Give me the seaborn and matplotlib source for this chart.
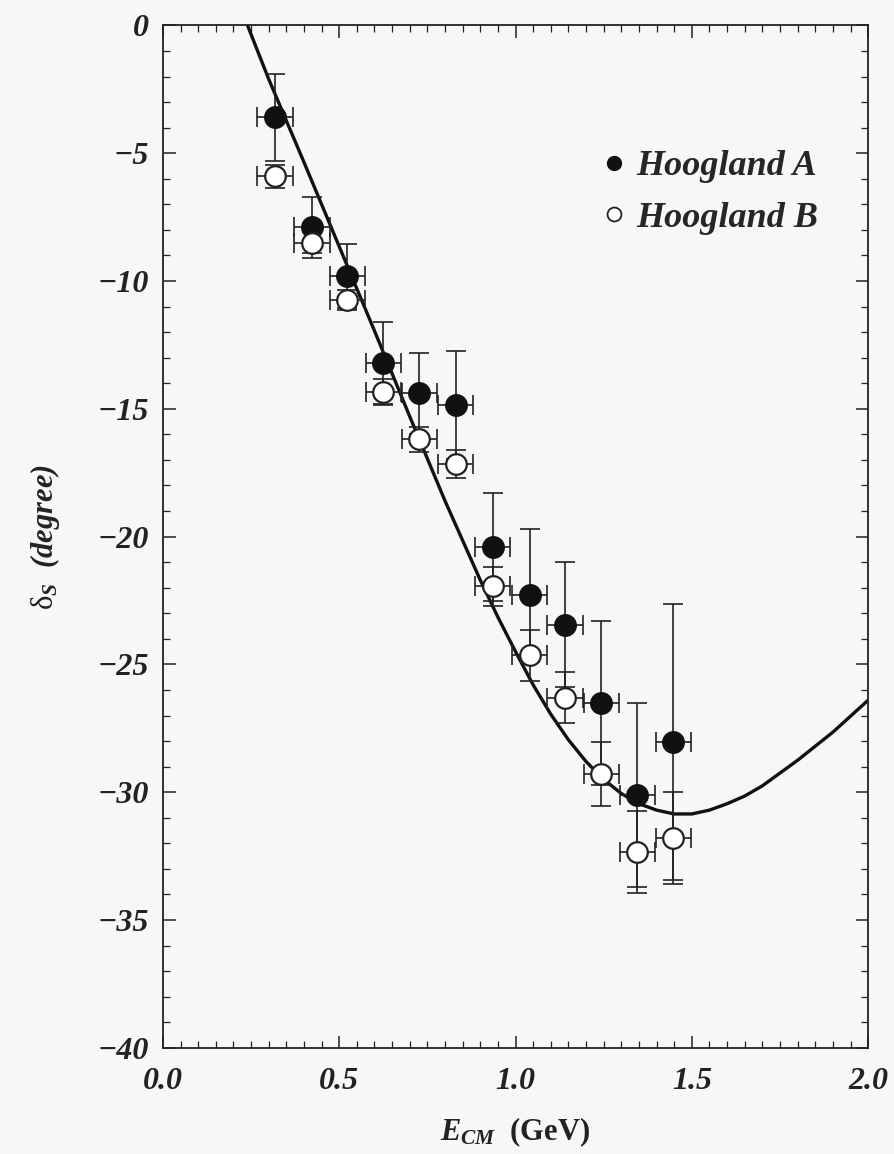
import numpy as np
import pandas as pd
import matplotlib
matplotlib.use("Agg")
import matplotlib.pyplot as plt
from matplotlib.lines import Line2D
from matplotlib.ticker import MultipleLocator
import seaborn as sns

# ---- data ----
e_cm = [0.318, 0.423, 0.523, 0.625, 0.727, 0.830, 0.935, 1.040, 1.140, 1.243, 1.345, 1.447]
e_err = [0.05] * 12

hoog_a = [-3.6, -7.9, -9.8, -13.2, -14.4, -14.85, -20.4, -22.3, -23.45, -26.5, -30.1, -28.05]
hoog_a_err = [1.7, 1.2, 1.25, 1.6, 1.6, 2.1, 2.1, 2.6, 2.45, 3.2, 3.6, 5.4]

hoog_b = [-5.9, -8.5, -10.75, -14.35, -16.2, -17.15, -21.95, -24.65, -26.3, -29.3, -32.35, -31.8]
hoog_b_err = [0.45, 0.4, 0.4, 0.5, 0.5, 0.55, 0.75, 1.0, 1.0, 1.25, 1.6, 1.8]

curve_x = [0.24, 0.30, 0.40, 0.50, 0.60, 0.70, 0.80, 0.90, 0.95, 1.00, 1.05, 1.10, 1.15, 1.20,
           1.25, 1.30, 1.35, 1.40, 1.45, 1.50, 1.55, 1.60, 1.65, 1.70, 1.80, 1.90, 2.00]
curve_y = [0.0, -2.1, -5.35, -8.65, -11.95, -15.3, -18.6, -21.7, -23.15, -24.5, -25.8, -26.95, -27.95, -28.8,
           -29.5, -30.05, -30.45, -30.7, -30.85, -30.85, -30.7, -30.45, -30.15, -29.75, -28.75, -27.65, -26.4]

xticks = [0.0, 0.5, 1.0, 1.5, 2.0]
xtick_labels = ["0.0", "0.5", "1.0", "1.5", "2.0"]
yticks = [0, -5, -10, -15, -20, -25, -30, -35, -40]
ytick_labels = ["0", "\u22125", "\u221210", "\u221215", "\u221220", "\u221225", "\u221230", "\u221235", "\u221240"]

df = pd.DataFrame({"E": e_cm, "A": hoog_a, "B": hoog_b})
dcurve = pd.DataFrame({"x": curve_x, "y": curve_y})

# ---- styling ----
sns.set_theme(style="ticks")
plt.rcParams['font.family'] = ['Liberation Serif', 'DejaVu Serif']
plt.rcParams['mathtext.fontset'] = 'custom'
plt.rcParams['mathtext.rm'] = 'Liberation Serif'
plt.rcParams['mathtext.it'] = 'Liberation Serif:italic:bold'
plt.rcParams['mathtext.bf'] = 'Liberation Serif:bold'

bg = '#f7f7f5'
fig = plt.figure(figsize=(8.95, 11.54), dpi=100, facecolor=bg)
ax = fig.add_axes([0.182, 0.092, 0.788, 0.886])
ax.set_facecolor(bg)

# theory curve
sns.lineplot(data=dcurve, x="x", y="y", ax=ax, color='#111111', linewidth=2.4,
             sort=False, estimator=None, zorder=2)

# error bars
ax.errorbar(e_cm, hoog_a, yerr=hoog_a_err, xerr=e_err, fmt='none', ecolor='#222222',
            elinewidth=1.2, capsize=7, capthick=1.2, zorder=3)
ax.errorbar(e_cm, hoog_b, yerr=hoog_b_err, xerr=e_err, fmt='none', ecolor='#222222',
            elinewidth=1.2, capsize=7, capthick=1.2, zorder=3)

# markers
sns.scatterplot(data=df, x="E", y="A", ax=ax, color='#111111', edgecolor='#111111',
                s=240, linewidth=1.0, zorder=5, legend=False)
sns.scatterplot(data=df, x="E", y="B", ax=ax, color='white', edgecolor='#222222',
                s=220, linewidth=1.6, zorder=5, legend=False)

ax.set_xlim(0.0, 2.0)
ax.set_ylim(-40, 0)
ax.set_xticks(xticks)
ax.set_xticklabels(xtick_labels)
ax.set_yticks(yticks)
ax.set_yticklabels(ytick_labels)
ax.xaxis.set_minor_locator(MultipleLocator(0.05))
ax.yaxis.set_minor_locator(MultipleLocator(1))
ax.tick_params(which='both', direction='in', top=True, right=True, colors='#222222')
ax.tick_params(which='major', length=9, width=1.1)
ax.tick_params(axis='x', which='major', pad=14)
ax.tick_params(axis='y', which='major', pad=10)
ax.tick_params(which='minor', length=5, width=0.9)
for lab in ax.get_xticklabels() + ax.get_yticklabels():
    lab.set_fontsize(23)
    lab.set_fontweight('bold')
    lab.set_fontstyle('italic')
    lab.set_color('#222222')
for sp in ax.spines.values():
    sp.set_linewidth(1.3)
    sp.set_color('#222222')

ax.set_xlabel(r"$E_{CM}$  (GeV)", fontsize=22, fontweight='bold', labelpad=14,
              color='#222222')
ax.set_ylabel(r"$\mathrm{\delta}_{S}$  (degree)", fontsize=22, fontweight='bold', fontstyle='italic',
              labelpad=26, color='#222222')

handles = [Line2D([], [], linestyle='none', marker='o', markersize=10, markerfacecolor='#111111',
                  markeredgecolor='#111111'),
           Line2D([], [], linestyle='none', marker='o', markersize=10, markerfacecolor='white',
                  markeredgecolor='#222222', markeredgewidth=1.3)]
leg = ax.legend(handles, ["Hoogland A", "Hoogland B"], loc='upper right', frameon=False,
                bbox_to_anchor=(0.975, 0.91), handletextpad=0.0, handlelength=1.2, labelspacing=0.5,
                prop={'family': 'Liberation Serif', 'weight': 'bold', 'style': 'italic', 'size': 26})

fig.savefig("out.png", dpi=100, facecolor=bg)
